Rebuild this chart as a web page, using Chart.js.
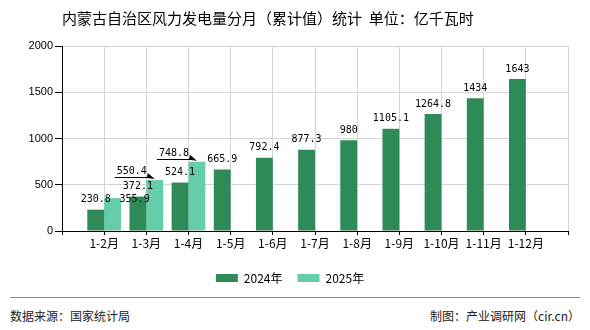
<!DOCTYPE html>
<html>
<head>
<meta charset="utf-8">
<script src="https://cdn.jsdelivr.net/npm/chart.js@4.4.0/dist/chart.umd.min.js"></script>
<style>
  body { margin: 0; background: #fff; }
  #wrap { position: relative; width: 590px; height: 330px; overflow: hidden; font-family: "Noto Sans CJK SC", sans-serif; }
  #title { position: absolute; left: 62px; top: 9px; font-size: 15px; line-height: 18px; color: #000; white-space: nowrap; }
  #box { position: absolute; left: 0; top: 0; width: 590px; height: 295px; }
  #rule { position: absolute; left: 10px; top: 297px; width: 570px; height: 1px; background: #8c8c8c; }
  .foot { position: absolute; top: 308px; font-size: 12px; line-height: 16px; color: #222; white-space: nowrap; }
</style>
</head>
<body>
<div id="wrap">
  <div id="box"><canvas id="chart"></canvas></div>
  <div id="title">内蒙古自治区风力发电量分月（累计值）统计&nbsp;&nbsp;单位：亿千瓦时</div>
  <div id="rule"></div>
  <div class="foot" style="left:10px">数据来源：国家统计局</div>
  <div class="foot" style="right:10px">制图：产业调研网（cir.cn）</div>
</div>
<script>
const months = ["1-2月", "1-3月", "1-4月", "1-5月", "1-6月", "1-7月", "1-8月", "1-9月", "1-10月", "1-11月", "1-12月"];
const values2024 = [230.8, 372.1, 524.1, 665.9, 792.4, 877.3, 980, 1105.1, 1264.8, 1434, 1643];
const values2025 = [355.9, 550.4, 748.8];
const yTicks = [0, 500, 1000, 1500, 2000];

// labels that were pushed aside in the original to avoid overlapping
const labelNudge = {
    "1-0": { dx: 22, dy: 11 },
    "1-1": { dx: -23, dy: 1, arrow: true },
    "1-2": { dx: -23, dy: 2, arrow: true }
};

const barLabels = {
    id: "barLabels",
    afterDatasetsDraw(chart) {
        const ctx = chart.ctx;
        ctx.save();
        ctx.font = '10px "DejaVu Sans Mono"';
        ctx.fillStyle = "#000";
        ctx.strokeStyle = "#000";
        ctx.lineWidth = 1;
        ctx.textAlign = "center";
        ctx.textBaseline = "alphabetic";
        chart.data.datasets.forEach((ds, di) => {
            chart.getDatasetMeta(di).data.forEach((bar, i) => {
                const text = String(ds.data[i].y);
                const n = labelNudge[di + "-" + i] || { dx: 0, dy: 0 };
                const x = bar.x + n.dx;
                const y = bar.y - 7.5 + n.dy;
                ctx.fillText(text, x, y);
                if (n.arrow) {
                    const w = ctx.measureText(text).width;
                    const ly = Math.round(y + 3) + 0.5;
                    ctx.beginPath();
                    ctx.moveTo(x - w / 2 - 2, ly);
                    ctx.lineTo(bar.x - 4, ly);
                    ctx.stroke();
                    ctx.beginPath();
                    ctx.moveTo(bar.x, bar.y - 1);
                    ctx.lineTo(bar.x - 7, bar.y - 7);
                    ctx.lineTo(bar.x - 8, bar.y - 2);
                    ctx.closePath();
                    ctx.fill();
                }
            });
        });
        ctx.restore();
    }
};

new Chart(document.getElementById("chart"), {
    type: "bar",
    data: {
        datasets: [{
            label: "2024年",
            data: values2024.map((v, i) => ({ x: i + 1, y: v })),
            backgroundColor: "#2e8b57",
            borderWidth: 0
        }, {
            label: "2025年",
            data: values2025.map((v, i) => ({ x: i + 1, y: v })),
            backgroundColor: "#66cdaa",
            borderWidth: 0
        }]
    },
    options: {
        responsive: true,
        maintainAspectRatio: false,
        animation: false,
        categoryPercentage: 0.8,
        barPercentage: 1,
        layout: { padding: { top: 46, left: 12, right: 22, bottom: 1 } },
        plugins: {
            tooltip: { enabled: false },
            legend: {
                position: "bottom",
                labels: {
                    boxWidth: 22,
                    boxHeight: 8,
                    padding: 15,
                    color: "#000",
                    font: { family: '"Noto Sans CJK SC"', size: 12 }
                }
            }
        },
        scales: {
            x: {
                type: "linear",
                min: 0,
                max: months.length + 1,
                offset: false,
                afterFit: s => { s.height = 26; },
                grid: { offset: false, color: "#d4d4d4", tickColor: "#000", tickLength: 4 },
                border: { color: "#000" },
                ticks: {
                    stepSize: 1,
                    autoSkip: false,
                    maxRotation: 0,
                    includeBounds: false,
                    padding: 1,
                    color: "#000",
                    font: { family: '"Noto Sans CJK SC"', size: 12 },
                    callback: v => months[v - 1] || ""
                }
            },
            y: {
                min: yTicks[0],
                max: yTicks[yTicks.length - 1],
                afterFit: s => { s.width = 50; },
                afterBuildTicks: s => { s.ticks = yTicks.map(v => ({ value: v })); },
                grid: { color: "#d4d4d4", tickColor: "#000", tickLength: 7 },
                border: { color: "#000" },
                ticks: {
                    padding: 2,
                    color: "#000",
                    font: { family: '"Liberation Sans"', size: 11 },
                    callback: v => String(v)
                }
            }
        }
    },
    plugins: [barLabels]
});
</script>
</body>
</html>
